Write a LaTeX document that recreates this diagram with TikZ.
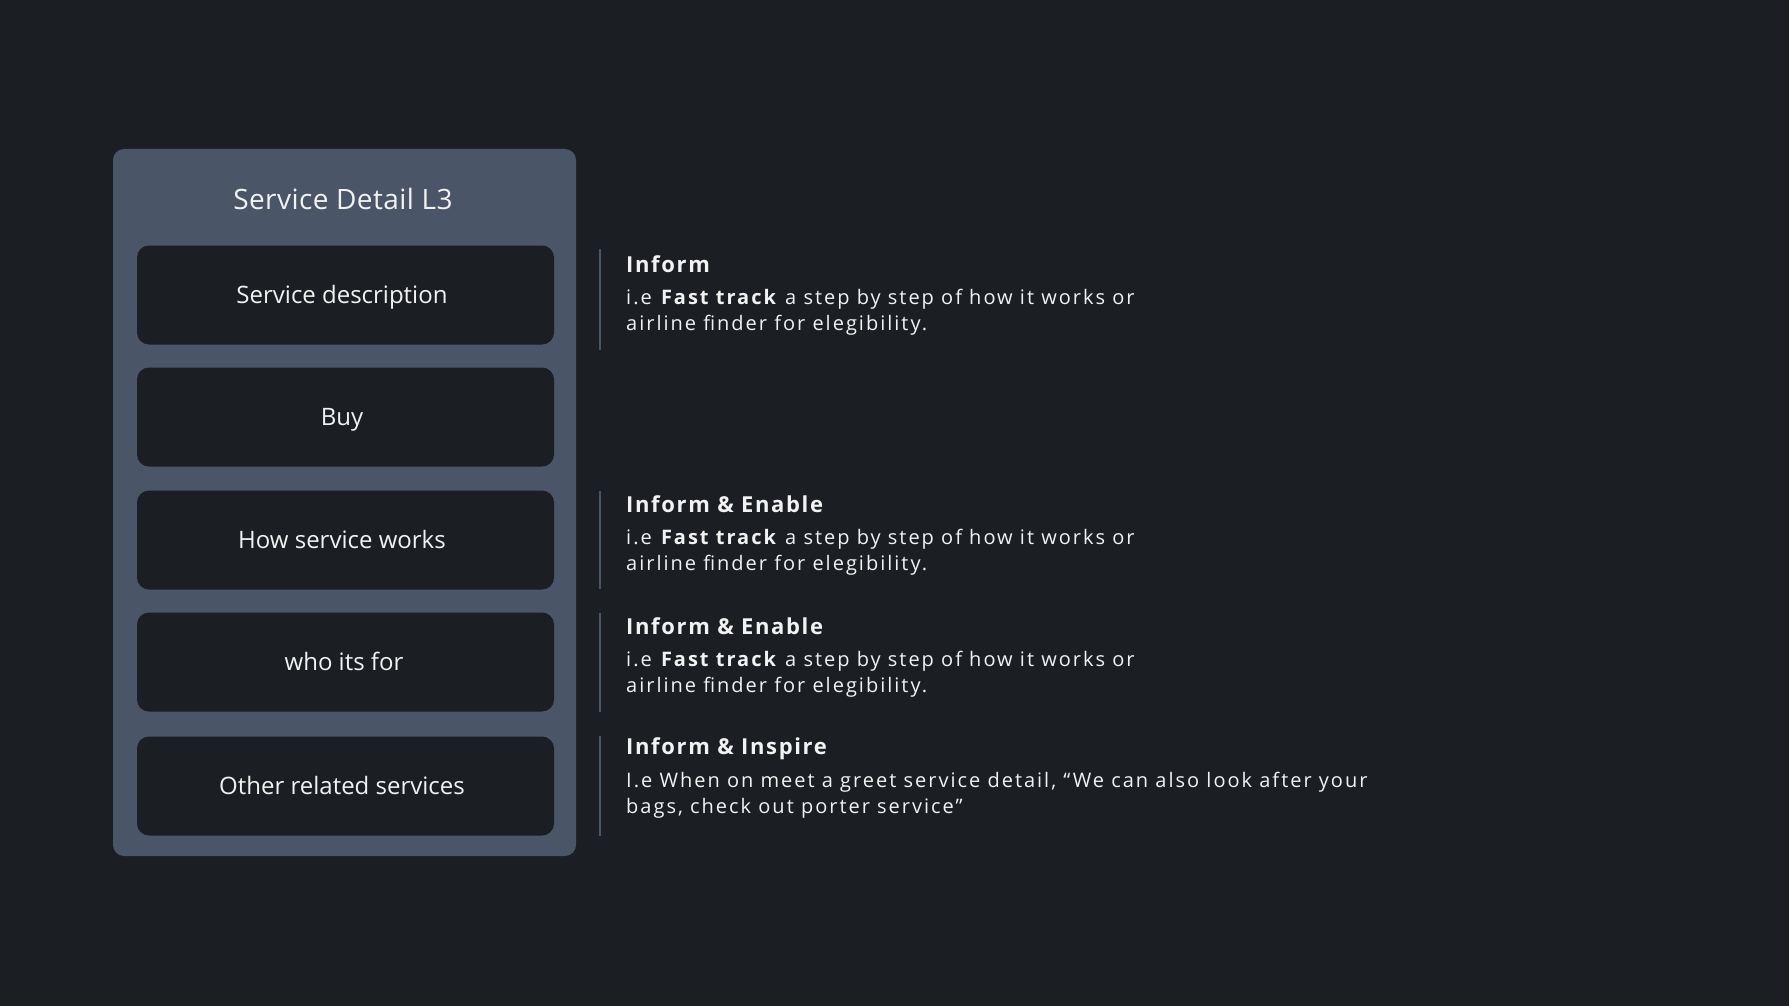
\documentclass[tikz,border=0pt]{standalone}
\usepackage{fontspec}
\setmainfont{Open Sans}
\newfontfamily\titlefont[LetterSpace=1.5]{Open Sans}
\newfontfamily\headfont[LetterSpace=7.5]{Open Sans}
\newfontfamily\bodyfont[LetterSpace=10]{Open Sans}
\definecolor{bg}{HTML}{1B1E23}
\definecolor{panel}{HTML}{4A5567}
\definecolor{txt}{HTML}{F2F2F2}
\begin{document}
\begin{tikzpicture}[x=1pt,y=-1pt,
  panelbox/.style={fill=panel, rounded corners=11pt},
  itembox/.style={fill=bg, rounded corners=12pt, minimum width=417pt, minimum height=99pt, inner sep=0pt},
  itemtext/.style={anchor=base, text=txt, font=\fontsize{24}{28}\selectfont, inner sep=0pt},
  titletext/.style={anchor=base, text=txt, font=\titlefont\fontsize{28}{32}\selectfont, inner sep=0pt},
  headtext/.style={anchor=base west, text=txt, font=\headfont\fontsize{22}{26}\selectfont\bfseries, inner sep=0pt},
  bodytext/.style={anchor=base west, text=txt, font=\bodyfont\fontsize{20}{26}\selectfont, inner sep=0pt},
  sepline/.style={draw=panel, line width=2pt}
]
\useasboundingbox[fill=bg] (0,0) rectangle (1789,1006);
\fill[panelbox] (113,149) rectangle (576,856);
\node[titletext] (title) at (343,209) {Service Detail L3};
\node[itembox] (b1) at (345.5,295) {};
\node[itembox] (b2) at (345.5,417) {};
\node[itembox] (b3) at (345.5,540) {};
\node[itembox] (b4) at (345.5,662) {};
\node[itembox] (b5) at (345.5,786) {};
\node[itemtext] (t1) at (342,303) {Service description};
\node[itemtext] (t2) at (342,425) {Buy};
\node[itemtext] (t3) at (342,548) {How service works};
\node[itemtext] (t4) at (344,670) {who its for};
\node[itemtext] (t5) at (342,794) {Other related services};
% separators
\coordinate (s1a) at (600,249); \coordinate (s1b) at (600,350);
\coordinate (s2a) at (600,491); \coordinate (s2b) at (600,589);
\coordinate (s3a) at (600,613); \coordinate (s3b) at (600,712);
\coordinate (s4a) at (600,736); \coordinate (s4b) at (600,836);
\draw[sepline] (s1a) -- (s1b);
\draw[sepline] (s2a) -- (s2b);
\draw[sepline] (s3a) -- (s3b);
\draw[sepline] (s4a) -- (s4b);
% annotations
\node[headtext] (h1) at (626,272) {Inform};
\node[bodytext] (p1a) at (626,304) {i.e \textbf{Fast track} a step by step of how it works or};
\node[bodytext] (p1b) at (626,330) {airline finder for elegibility.};
\node[headtext] (h2) at (626,512) {Inform \& Enable};
\node[bodytext] (p2a) at (626,544) {i.e \textbf{Fast track} a step by step of how it works or};
\node[bodytext] (p2b) at (626,570) {airline finder for elegibility.};
\node[headtext] (h3) at (626,634) {Inform \& Enable};
\node[bodytext] (p3a) at (626,666) {i.e \textbf{Fast track} a step by step of how it works or};
\node[bodytext] (p3b) at (626,692) {airline finder for elegibility.};
\node[headtext] (h4) at (626,754) {Inform \& Inspire};
\node[bodytext] (p4a) at (626,787) {I.e When on meet a greet service detail, “We can also look after your};
\node[bodytext] (p4b) at (626,813) {bags, check out porter service”};
\end{tikzpicture}
\end{document}
